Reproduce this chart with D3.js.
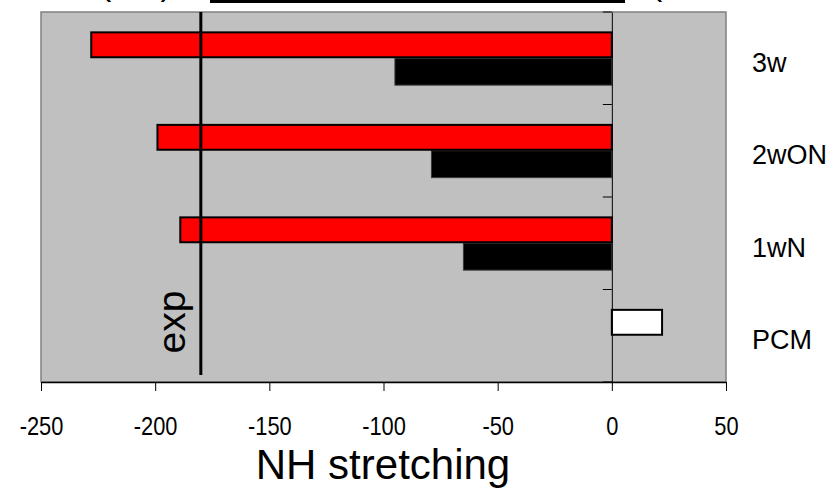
<!DOCTYPE html>
<html lang="en">
<head>
    <meta charset="UTF-8">
    <title>NH stretching</title>
    <style>
        body{ margin: 0; background: #fff; }
        text{ font-family: "Liberation Sans", Arial, sans-serif; }
        .axis path{ stroke: #000; }
        .axis line{ stroke: #000; }
    </style>
</head>
<body>
    <svg width="835" height="495"></svg>
    <script src="https://cdn.jsdelivr.net/npm/d3@7"></script>
    <script>
        // categories top to bottom, as on the picture
        var categories = ["3w", "2wON", "1wN", "PCM"];
        var upperValues = [-228, -199, -189, 22];    // red bars (PCM drawn white)
        var lowerValues = [-95, -79, -65, null];     // black bars
        var expValue = -180;
        var xTicks = [-250, -200, -150, -100, -50, 0, 50];
        var xTitle = "NH stretching";

        var svg = d3.select("svg"),
            plot = {left: 41, right: 726, top: 12, bottom: 382};

        var x = d3.scaleLinear()
            .domain([-250, 50])
            .range([plot.left, plot.right]);

        var y = d3.scaleBand()
            .domain(categories)
            .range([plot.top, plot.bottom]);

        var sub = d3.scaleBand()
            .domain(["upper", "lower"])
            .range([0, y.bandwidth()])
            .paddingOuter(0.72);

        // title, cut off at the top edge (only descenders show)
        var title = svg.append("g").attr("class", "title");
        title.append("text").attr("x", 100).attr("y", -5)
            .style("font-size", "34px").text("(NH)");
        title.append("text").attr("x", 212).attr("y", -5)
            .attr("textLength", 410).attr("lengthAdjust", "spacing")
            .style("font-size", "34px").text("Calculated spectra");
        title.append("line").attr("x1", 210).attr("x2", 625)
            .attr("y1", 1.5).attr("y2", 1.5).attr("stroke", "#000").attr("stroke-width", 3);
        title.append("text").attr("x", 651).attr("y", -5)
            .style("font-size", "34px").text("(");

        // plot area
        svg.append("rect")
            .attr("x", plot.left).attr("y", plot.top)
            .attr("width", plot.right - plot.left).attr("height", plot.bottom - plot.top)
            .attr("fill", "#c0c0c0").attr("stroke", "#808080").attr("stroke-width", 1.5);

        var rows = categories.map(function(c, i){
            return {cat: c, upper: upperValues[i], lower: lowerValues[i]};
        });

        var g = svg.append("g");

        // black bars
        g.selectAll(".lower")
            .data(rows.filter(function(d){ return d.lower != null; }))
            .enter().append("rect")
            .attr("class", "lower")
            .attr("x", function(d){ return x(Math.min(0, d.lower)); })
            .attr("y", function(d){ return y(d.cat) + sub("lower"); })
            .attr("width", function(d){ return Math.abs(x(d.lower) - x(0)); })
            .attr("height", sub.bandwidth())
            .attr("fill", "#000")
            .attr("stroke", "#3a3a3a").attr("stroke-width", 1);

        // red bars (PCM white)
        g.selectAll(".upper")
            .data(rows.filter(function(d){ return d.upper != null; }))
            .enter().append("rect")
            .attr("class", "upper")
            .attr("x", function(d){ return x(Math.min(0, d.upper)); })
            .attr("y", function(d){ return y(d.cat) + sub("upper") + 1; })
            .attr("width", function(d){ return Math.abs(x(d.upper) - x(0)); })
            .attr("height", sub.bandwidth() - 2)
            .attr("fill", function(d){ return d.cat === "PCM" ? "#fff" : "#ff0000"; })
            .attr("stroke", "#000").attr("stroke-width", 2);

        // category axis on the zero line
        var yAxis = svg.append("g")
            .attr("class", "axis")
            .attr("transform", "translate(" + x(0) + ",0)")
            .call(d3.axisLeft(y).tickSize(0).tickFormat(""));
        yAxis.select(".domain").attr("stroke-width", 1);
        svg.append("g").selectAll("line")
            .data(categories.concat(["end"]))
            .enter().append("line")
            .attr("x1", x(0) - 9).attr("x2", x(0))
            .attr("y1", function(d, i){ return i < categories.length ? y(d) : plot.bottom; })
            .attr("y2", function(d, i){ return i < categories.length ? y(d) : plot.bottom; })
            .attr("stroke", "#000");

        // category labels on the right
        svg.append("g").selectAll("text")
            .data(categories)
            .enter().append("text")
            .attr("x", 752)
            .attr("y", function(d){ return y(d) + y.bandwidth() / 2 + 4; })
            .attr("dy", "0.35em")
            .style("font-size", "27px")
            .text(function(d){ return d; });

        // exp line
        svg.append("line")
            .attr("x1", x(expValue)).attr("x2", x(expValue))
            .attr("y1", plot.top).attr("y2", 375)
            .attr("stroke", "#000").attr("stroke-width", 3);
        svg.append("text")
            .attr("transform", "translate(" + (x(expValue) - 16) + ",322) rotate(-90)")
            .attr("text-anchor", "middle")
            .style("font-size", "39px")
            .text("exp");

        // value axis
        var xAxis = svg.append("g")
            .attr("class", "axis")
            .attr("transform", "translate(0," + plot.bottom + ")")
            .call(d3.axisBottom(x).tickValues(xTicks).tickSize(9).tickSizeOuter(0).tickPadding(26)
                .tickFormat(function(d){ return String(d); }));
        xAxis.select(".domain").attr("stroke-width", 1.5);
        xAxis.selectAll("text")
            .style("font-size", "26px")
            .attr("transform", "scale(0.84,1)")
            .attr("fill", "#000");

        svg.append("text")
            .attr("x", 383).attr("y", 479)
            .attr("text-anchor", "middle")
            .style("font-size", "42px")
            .text(xTitle);
    </script>
</body>
</html>
